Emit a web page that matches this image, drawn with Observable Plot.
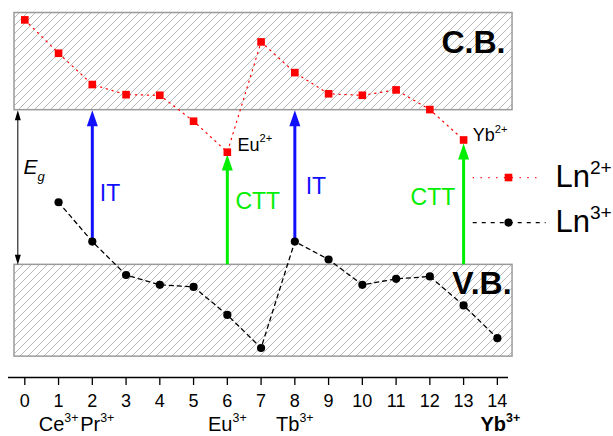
<!DOCTYPE html>
<html><head><meta charset="utf-8">
<script src="https://cdn.jsdelivr.net/npm/d3@7"></script>
<script src="https://cdn.jsdelivr.net/npm/@observablehq/plot@0.6"></script>
<style>body{margin:0;background:#fff}</style>
</head><body><div id="chart"></div>
<script>
// ---- data (energy in eV, VB top = 0) ----
const ln2X = [0,1,2,3,4,5,6,7,8,9,10,11,12,13];
const ln2E = [8.22,7.10,6.05,5.71,5.69,4.82,3.78,7.48,6.45,5.74,5.69,5.87,5.21,4.19];
const ln3X = [1,2,3,4,5,6,7,8,9,10,11,12,13,14];
const ln3E = [2.10,0.78,-0.34,-0.67,-0.74,-1.68,-2.79,0.78,0.18,-0.67,-0.47,-0.39,-1.36,-2.46];
const tickValues = [0,1,2,3,4,5,6,7,8,9,10,11,12,13,14];
const bandNames = ["C.B.","V.B."];
const bandLo = [5.19,-3.08];
const bandHi = [8.45,0];
const bandX = [-0.305,14.45];
const gapEnergy = [0,5.19];
const transType = ["IT","CTT","IT","CTT"];
const transX = [2,6,8,13];
const transFrom = [0.78,0,0.78,0];
const transTo = [5.19,3.70,5.19,4.07];
const ionNames = ["Ce^3+","Eu^3+","Tb^3+"];
const ionX = [1,6,8];
const ionShifted = ["Pr^3+"];
const ionShiftedX = [2];
const ionBold = ["Yb^3+"];
const ionBoldX = [14];
const legendNames = ["Ln^2+","Ln^3+"];

// ---- tables ----
const ln2 = ln2X.map((x,i)=>({x, e:ln2E[i]}));
const ln3 = ln3X.map((x,i)=>({x, e:ln3E[i]}));
const bands = bandNames.map((n,i)=>({n, lo:bandLo[i], hi:bandHi[i], x1:bandX[0], x2:bandX[1]}));
const trans = transType.map((t,i)=>({t, x:transX[i], from:transFrom[i], to:transTo[i]}));
const IT = trans.filter(d=>d.t==="IT"), CTT = trans.filter(d=>d.t==="CTT");
const ions = ionNames.map((n,i)=>({n, x:ionX[i]}));
const ionsS = ionShifted.map((n,i)=>({n, x:ionShiftedX[i]}));
const ionsB = ionBold.map((n,i)=>({n, x:ionBoldX[i]}));

const labelsIT = [{t:"IT", x:2.22, y:2.38},{t:"IT", x:8.32, y:2.62}];
const labelsCTT = [{t:"CTT", x:6.24, y:2.13},{t:"CTT", x:11.43, y:2.27}];
const labelsIon2 = [{t:"Eu^2+", x:6.30, y:4.03},{t:"Yb^2+", x:13.27, y:4.36}];
const bandLabels = [{t:"C.B.", x:14.24, y:7.46},{t:"V.B.", x:14.42, y:-0.63}];
const legend = [{t:legendNames[0], y:2.93, x1:13.27, x2:15.28, xm:14.33, xt:15.72},
                {t:legendNames[1], y:1.42, x1:13.27, x2:15.43, xm:14.33, xt:15.72}];

const headUp = {draw(c){ c.moveTo(0,0); c.lineTo(5.5,16); c.lineTo(-5.5,16); c.closePath(); }};
const smallUp = {draw(c){ c.moveTo(0,0); c.lineTo(3,10); c.lineTo(-3,10); c.closePath(); }};
const smallDown = {draw(c){ c.moveTo(0,0); c.lineTo(3,-10); c.lineTo(-3,-10); c.closePath(); }};
const BLUE = "#1010ff", GREEN = "#00ee00";
const egX = -0.207;

const plot = Plot.plot({
  width: 613, height: 436,
  marginLeft: 8, marginRight: 105, marginTop: 0, marginBottom: 59,
  style: {fontFamily: "'Liberation Sans', Arial, sans-serif", background: "#fff", color: "#000"},
  x: {domain: [-0.483, 14.33], axis: null},
  y: {domain: [-3.78, 8.87], axis: null},
  marks: [
    Plot.rect(bands, {x1:"x1", x2:"x2", y1:"lo", y2:"hi", fill:"none", stroke:"#9a9a9a", strokeWidth:1.5}),
    Plot.ruleY([-3.78], {stroke:"#000", strokeWidth:1.5}),
    Plot.axisX({ticks: tickValues, tickSize: 8, tickPadding: 9, fontSize: 18, tickFormat: d=>String(d), label: null, strokeWidth: 1.3}),
    // Eg arrow
    Plot.ruleX([egX], {y1: gapEnergy[1], y2: gapEnergy[0], stroke:"#000", strokeWidth:1, insetTop:4, insetBottom:4}),
    Plot.dot([{x:egX, y:gapEnergy[1]}], {x:"x", y:"y", symbol: smallUp, fill:"#000", stroke:"none"}),
    Plot.dot([{x:egX, y:gapEnergy[0]}], {x:"x", y:"y", symbol: smallDown, fill:"#000", stroke:"none"}),
    Plot.text(["E_g"], {x: -0.04, y: 3.26, textAnchor:"start", fontSize:21, fontStyle:"italic", fill:"#000"}),
    // series
    Plot.line(ln2, {x:"x", y:"e", stroke:"#ff0000", strokeWidth:1.2, strokeDasharray:"1.3,4.7"}),
    Plot.line(ln3, {x:"x", y:"e", stroke:"#000", strokeWidth:1.3, strokeDasharray:"4,4"}),
    // transitions
    Plot.ruleX(IT, {x:"x", y1:"to", y2:"from", stroke:BLUE, strokeWidth:3, insetTop:12}),
    Plot.dot(IT, {x:"x", y:"to", symbol: headUp, fill:BLUE, stroke:"none"}),
    Plot.ruleX(CTT, {x:"x", y1:"to", y2:"from", stroke:GREEN, strokeWidth:3, insetTop:12}),
    Plot.dot(CTT, {x:"x", y:"to", symbol: headUp, fill:GREEN, stroke:"none"}),
    Plot.dot(ln2, {x:"x", y:"e", symbol:"square", r:4.3, fill:"#ff0000", stroke:"none"}),
    Plot.dot(ln3, {x:"x", y:"e", symbol:"circle", r:4.1, fill:"#000", stroke:"none"}),
    // labels
    Plot.text(labelsIT, {x:"x", y:"y", text:"t", textAnchor:"start", fontSize:23, fill:BLUE}),
    Plot.text(labelsCTT, {x:"x", y:"y", text:"t", textAnchor:"start", fontSize:23, fill:GREEN}),
    Plot.text(labelsIon2, {x:"x", y:"y", text:"t", textAnchor:"start", fontSize:18, fill:"#000"}),
    Plot.text(bandLabels, {x:"x", y:"y", text:"t", textAnchor:"end", fontSize:32, fontWeight:"bold", fill:"#000"}),
    // legend
    Plot.link(legend.slice(0,1), {x1:"x1", x2:"x2", y1:"y", y2:"y", stroke:"#ff0000", strokeWidth:1.2, strokeDasharray:"1.3,6.5"}),
    Plot.link(legend.slice(1), {x1:"x1", x2:"x2", y1:"y", y2:"y", stroke:"#000", strokeWidth:1.3, strokeDasharray:"4,5"}),
    Plot.dot(legend.slice(0,1), {x:"xm", y:"y", symbol:"square", r:4.3, fill:"#ff0000", stroke:"none"}),
    Plot.dot(legend.slice(1), {x:"xm", y:"y", symbol:"circle", r:4.1, fill:"#000", stroke:"none"}),
    Plot.text(legend, {x:"xt", y:"y", text:"t", textAnchor:"start", fontSize:31, fill:"#000"}),
    // ion labels below the axis
    Plot.text(ions, {x:"x", text:"n", frameAnchor:"bottom", dy:53, textAnchor:"middle", fontSize:20, fill:"#000"}),
    Plot.text(ionsS, {x:"x", text:"n", frameAnchor:"bottom", dy:53, dx:5, textAnchor:"middle", fontSize:20, fill:"#000"}),
    Plot.text(ionsB, {x:"x", text:"n", frameAnchor:"bottom", dy:53, dx:3, textAnchor:"middle", fontSize:20, fontWeight:"bold", fill:"#000"})
  ]
});

// hatch pattern for the bands
const NS = "http://www.w3.org/2000/svg";
const defs = document.createElementNS(NS, "defs");
defs.innerHTML = '<pattern id="hatch" patternUnits="userSpaceOnUse" width="8" height="8"><path d="M-2,2 L2,-2 M0,8 L8,0 M6,10 L10,6" stroke="#b0b0b0" stroke-width="0.9"/></pattern>';
plot.insertBefore(defs, plot.firstChild);
plot.querySelectorAll('g[aria-label="rect"] rect').forEach(r => r.setAttribute("fill", "url(#hatch)"));

// superscripts / subscripts
plot.querySelectorAll("text").forEach(t => {
  const s = t.textContent;
  const m = s.match(/^([^\^_]*)([\^_])(.+)$/);
  if (!m) return;
  t.textContent = "";
  const a = document.createElementNS(NS, "tspan"); a.textContent = m[1]; t.appendChild(a);
  const b = document.createElementNS(NS, "tspan"); b.textContent = m[3];
  b.setAttribute("font-size", "0.62em");
  b.setAttribute("dy", m[2] === "^" ? "-0.72em" : "0.5em");
  t.appendChild(b);
});
document.getElementById("chart").appendChild(plot);
</script>
</body></html>
